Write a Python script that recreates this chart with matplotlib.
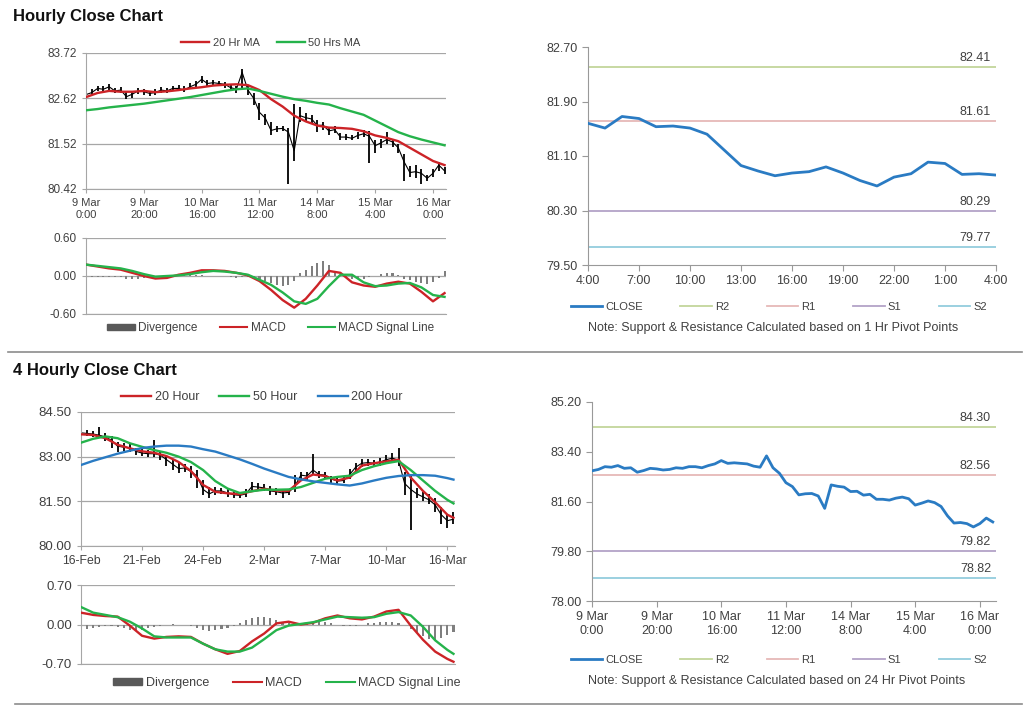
import matplotlib
matplotlib.use('Agg')
import matplotlib.pyplot as plt
from matplotlib.lines import Line2D
from matplotlib.patches import Patch

plt.rcParams['font.family'] = ['Liberation Sans', 'DejaVu Sans']

# ---------------- data ----------------
# hourly bars, sampled every 2 hours (index = hours since 9 Mar 0:00, weekend skipped)
hr_x = list(range(0, 125, 2))
hr_close = [82.71, 82.76, 82.86, 82.84, 82.90, 82.80, 82.82, 82.66, 82.72, 82.80,
            82.78, 82.74, 82.76, 82.82, 82.80, 82.86, 82.86, 82.82, 82.90, 82.96,
            83.08, 82.98, 83.00, 82.98, 82.96, 82.88, 82.84, 83.25, 82.82, 82.62,
            82.28, 82.14, 81.84, 81.88, 81.89, 81.80, 81.35, 82.20, 82.15, 82.12,
            81.96, 81.97, 81.83, 81.86, 81.68, 81.68, 81.65, 81.72, 81.76, 81.70,
            81.47, 81.54, 81.62, 81.56, 81.42, 81.08, 80.82, 80.84, 80.80, 80.68,
            80.80, 81.00, 80.86]
hr_high = [82.78, 82.84, 82.93, 82.92, 82.96, 82.88, 82.89, 82.78, 82.80, 82.86,
           82.84, 82.80, 82.84, 82.90, 82.88, 82.93, 82.94, 82.92, 82.98, 83.04,
           83.16, 83.06, 83.06, 83.04, 83.02, 82.96, 82.92, 83.32, 82.95, 82.75,
           82.50, 82.25, 82.05, 81.96, 81.95, 81.90, 82.48, 82.40, 82.26, 82.22,
           82.10, 82.05, 81.92, 81.94, 81.78, 81.75, 81.74, 81.80, 81.84, 81.82,
           81.60, 81.64, 81.80, 81.64, 81.52, 81.28, 80.98, 81.00, 80.90, 80.76,
           80.90, 81.08, 80.95]
hr_low = [82.62, 82.70, 82.80, 82.78, 82.83, 82.74, 82.76, 82.60, 82.64, 82.72,
          82.70, 82.68, 82.70, 82.76, 82.74, 82.80, 82.80, 82.78, 82.84, 82.90,
          83.00, 82.92, 82.94, 82.92, 82.88, 82.80, 82.76, 82.86, 82.70, 82.45,
          82.10, 81.98, 81.72, 81.80, 81.82, 80.55, 81.10, 82.05, 82.06, 82.02,
          81.80, 81.85, 81.74, 81.78, 81.62, 81.62, 81.60, 81.64, 81.68, 81.05,
          81.30, 81.42, 81.50, 81.44, 81.30, 80.62, 80.70, 80.68, 80.55, 80.62,
          80.70, 80.86, 80.78]

hr_ma_x = list(range(0, 125, 4))
hr_ma20 = [82.65, 82.75, 82.80, 82.78, 82.78, 82.80, 82.77, 82.79, 82.82, 82.86,
           82.89, 82.93, 82.95, 82.96, 82.94, 82.82, 82.60, 82.42, 82.20, 82.06,
           81.96, 81.91, 81.90, 81.88, 81.82, 81.72, 81.66, 81.58, 81.42, 81.26,
           81.10, 81.00]
hr_ma50 = [82.33, 82.36, 82.40, 82.43, 82.46, 82.49, 82.53, 82.57, 82.61, 82.65,
           82.70, 82.75, 82.80, 82.84, 82.86, 82.80, 82.73, 82.66, 82.60, 82.56,
           82.51, 82.47, 82.38, 82.30, 82.22, 82.08, 81.94, 81.80, 81.70, 81.62,
           81.55, 81.48]
hr_macd = [0.18, 0.15, 0.12, 0.10, 0.05, 0.00, -0.04, -0.03, 0.02, 0.05,
           0.09, 0.09, 0.08, 0.05, 0.01, -0.08, -0.22, -0.38, -0.50, -0.36,
           -0.15, 0.08, 0.05, -0.10, -0.15, -0.17, -0.12, -0.09, -0.12, -0.25,
           -0.40, -0.27]
hr_signal = [0.18, 0.16, 0.14, 0.12, 0.08, 0.03, -0.01, 0.00, 0.01, 0.03,
             0.06, 0.08, 0.07, 0.05, 0.02, -0.06, -0.14, -0.26, -0.40, -0.44,
             -0.36, -0.16, 0.02, 0.02, -0.10, -0.16, -0.15, -0.12, -0.11, -0.18,
             -0.30, -0.33]
hr_div = [0.00, -0.01, -0.02, -0.02, -0.01, -0.01, -0.02, -0.04, -0.05, -0.04,
          -0.03, -0.02, -0.01, 0.00, 0.01, 0.02, 0.02, 0.02, 0.01, 0.01,
          0.01, 0.00, 0.00, 0.00, 0.00, -0.01, -0.03, -0.02, -0.02, -0.03,
          -0.05, -0.08, -0.11, -0.14, -0.16, -0.14, -0.08, 0.04, 0.10, 0.16,
          0.20, 0.23, 0.18, 0.08, 0.02, -0.02, -0.04, -0.05, -0.04, -0.02,
          0.00, 0.03, 0.05, 0.04, 0.01, -0.04, -0.07, -0.09, -0.11, -0.12,
          -0.10, -0.03, 0.08]
hr_ticks = ['9 Mar\n0:00', '9 Mar\n20:00', '10 Mar\n16:00', '11 Mar\n12:00',
            '14 Mar\n8:00', '15 Mar\n4:00', '16 Mar\n0:00']

# last 24 hours, hourly close
day_labels = ['4:00', '7:00', '10:00', '13:00', '16:00', '19:00', '22:00', '1:00', '4:00']
day_close = [81.58, 81.51, 81.68, 81.65, 81.53, 81.54, 81.51, 81.42, 81.19, 80.96,
             80.88, 80.81, 80.85, 80.87, 80.94, 80.85, 80.74, 80.66, 80.79, 80.84,
             81.01, 80.99, 80.83, 80.84, 80.82]
pivot_1h = {'R2': 82.41, 'R1': 81.61, 'S1': 80.29, 'S2': 79.77}
pivot_24h = {'R2': 84.30, 'R1': 82.56, 'S1': 79.82, 'S2': 78.82}

# 4-hourly bars, sampled every 2 bars
h4_x = list(range(0, 123, 2))
h4_close = [83.80, 83.78, 83.76, 83.72, 83.66, 83.55, 83.35, 83.32, 83.30, 83.18,
            83.12, 83.10, 83.10, 83.05, 82.90, 82.75, 82.60, 82.62, 82.50, 82.35,
            81.90, 81.75, 81.85, 81.85, 81.78, 81.72, 81.70, 81.75, 82.00, 81.98,
            81.95, 81.85, 81.82, 81.78, 81.80, 82.00, 82.38, 82.35, 82.55, 82.40,
            82.38, 82.25, 82.18, 82.20, 82.40, 82.65, 82.78, 82.80, 82.78, 82.82,
            82.90, 82.95, 82.88, 82.10, 81.90, 81.75, 81.65, 81.55, 81.38, 81.05,
            80.85, 80.90]
h4_high = [83.92, 83.88, 83.86, 84.00, 83.78, 83.70, 83.50, 83.45, 83.42, 83.30,
           83.25, 83.22, 83.55, 83.20, 83.05, 82.90, 82.78, 82.76, 82.68, 82.55,
           82.20, 81.98, 81.98, 81.96, 81.90, 81.85, 81.82, 81.90, 82.15, 82.10,
           82.08, 82.00, 81.95, 81.92, 81.92, 82.40, 82.50, 82.48, 83.10, 82.52,
           82.50, 82.36, 82.30, 82.32, 82.58, 82.80, 82.92, 82.92, 82.90, 82.95,
           83.05, 83.12, 83.30, 82.50, 82.40, 81.95, 81.80, 81.75, 81.60, 81.30,
           81.05, 81.15]
h4_low = [83.70, 83.68, 83.66, 83.62, 83.52, 83.30, 83.15, 83.20, 83.15, 83.05,
          83.02, 83.00, 82.98, 82.88, 82.70, 82.55, 82.45, 82.48, 82.30, 81.95,
          81.70, 81.62, 81.72, 81.74, 81.66, 81.62, 81.60, 81.64, 81.88, 81.86,
          81.84, 81.72, 81.70, 81.60, 81.70, 81.80, 82.20, 82.22, 82.38, 82.28,
          82.26, 82.12, 82.08, 82.10, 82.25, 82.50, 82.66, 82.68, 82.66, 82.70,
          82.78, 82.82, 82.70, 81.70, 80.55, 81.60, 81.50, 81.40, 81.15, 80.75,
          80.60, 80.75]
h4_ma_x = list(range(0, 121, 4)) + [122]
h4_ma20 = [83.75, 83.73, 83.62, 83.40, 83.28, 83.18, 83.13, 83.02, 82.82, 82.52,
           82.05, 81.82, 81.77, 81.74, 81.84, 81.92, 81.86, 81.85, 82.20, 82.40,
           82.35, 82.20, 82.30, 82.70, 82.78, 82.84, 82.90, 82.30, 81.85, 81.47,
           81.05, 80.95]
h4_ma50 = [83.47, 83.60, 83.68, 83.62, 83.45, 83.33, 83.22, 83.13, 83.00, 82.82,
           82.55, 82.18, 81.93, 81.78, 81.84, 81.89, 81.89, 81.90, 81.98, 82.12,
           82.26, 82.32, 82.36, 82.55, 82.68, 82.78, 82.85, 82.55, 82.20, 81.85,
           81.55, 81.43]
h4_ma200 = [82.72, 82.86, 82.98, 83.10, 83.20, 83.29, 83.34, 83.37, 83.37, 83.34,
            83.25, 83.17, 83.04, 82.91, 82.76, 82.60, 82.46, 82.32, 82.24, 82.17,
            82.12, 82.07, 82.03, 82.10, 82.20, 82.29, 82.35, 82.38, 82.38, 82.36,
            82.28, 82.23]
h4_macd = [0.21, 0.17, 0.15, 0.14, -0.02, -0.20, -0.25, -0.22, -0.21, -0.22,
           -0.34, -0.44, -0.52, -0.47, -0.30, -0.16, 0.02, 0.05, 0.00, 0.03,
           0.11, 0.16, 0.11, 0.09, 0.14, 0.23, 0.26, -0.02, -0.27, -0.48,
           -0.61, -0.66]
h4_signal = [0.31, 0.21, 0.17, 0.13, 0.05, -0.07, -0.21, -0.23, -0.23, -0.23,
             -0.34, -0.44, -0.48, -0.48, -0.41, -0.26, -0.10, -0.02, 0.01, 0.04,
             0.09, 0.14, 0.13, 0.12, 0.13, 0.19, 0.22, 0.16, -0.04, -0.28,
             -0.45, -0.52]
h4_div = [-0.10, -0.08, -0.06, -0.04, -0.02, -0.02, -0.04, -0.07, -0.10, -0.12,
          -0.10, -0.07, -0.04, -0.02, 0.00, 0.01, 0.00, -0.01, -0.03, -0.06,
          -0.09, -0.11, -0.10, -0.08, -0.06, -0.03, 0.02, 0.08, 0.12, 0.14,
          0.14, 0.12, 0.08, 0.03, 0.02, 0.01, 0.02, 0.03, 0.04, 0.05,
          0.04, 0.03, 0.00, -0.02, -0.03, -0.02, 0.00, 0.02, 0.03, 0.04,
          0.05, 0.04, 0.03, 0.00, -0.08, -0.14, -0.20, -0.25, -0.28, -0.24,
          -0.18, -0.14]
h4_ticks = ['16-Feb', '21-Feb', '24-Feb', '2-Mar', '7-Mar', '10-Mar', '16-Mar']

RED = '#cc2327'
GREEN = '#25b34b'
BLUE = '#2a7bc3'
GRID = '#a6a6a6'
TXT = '#404040'
PIV_COL = {'R2': '#c3d69b', 'R1': '#e6b9b8', 'S1': '#b3a2c7', 'S2': '#93cddd'}

fig = plt.figure(figsize=(10.24, 7.06), dpi=100)


def px_axes(l, t, r, b):
    return fig.add_axes([l / 1024, 1 - b / 706, (r - l) / 1024, (b - t) / 706])


def style_left(ax, yticks, ysize=8.5, xsize=8):
    ax.set_ylim(yticks[0], yticks[-1])
    ax.set_yticks(yticks)
    ax.set_yticklabels(['{:.2f}'.format(v) for v in yticks])
    ax.grid(axis='y', color=GRID, lw=0.9)
    ax.set_axisbelow(True)
    for s in ['top', 'right']:
        ax.spines[s].set_visible(False)
    for s in ['left', 'bottom']:
        ax.spines[s].set_color(GRID)
    ax.tick_params(color=GRID, labelcolor=TXT, length=3)
    ax.tick_params(axis='y', labelsize=ysize)
    ax.tick_params(axis='x', labelsize=xsize)


def style_right(ax, yticks):
    ax.set_ylim(yticks[0], yticks[-1])
    ax.set_yticks(yticks)
    ax.set_yticklabels(['{:.2f}'.format(v) for v in yticks])
    for s in ['top', 'right']:
        ax.spines[s].set_visible(False)
    for s in ['left', 'bottom']:
        ax.spines[s].set_color('#999999')
    ax.tick_params(color='#999999', labelcolor=TXT, labelsize=9, length=4)


def pivots(ax, piv, xmax):
    for k in ['R2', 'R1', 'S1', 'S2']:
        ax.axhline(piv[k], color=PIV_COL[k], lw=1.3)
        ax.annotate('{:.2f}'.format(piv[k]), xy=(xmax, piv[k]), xytext=(-5, 3),
                    textcoords='offset pixels', ha='right', va='bottom',
                    fontsize=9, color=TXT)


def pivot_legend(y):
    h = [Line2D([], [], color=BLUE, lw=2)] + \
        [Line2D([], [], color=PIV_COL[k], lw=1.3) for k in ['R2', 'R1', 'S1', 'S2']]
    fig.legend(h, ['CLOSE', 'R2', 'R1', 'S1', 'S2'], loc='center',
               bbox_to_anchor=(779 / 1024, 1 - y / 706), ncol=5, frameon=False,
               fontsize=8, handlelength=2.8, columnspacing=3.4, handletextpad=0.3,
               labelcolor=TXT)


def macd_legend(x, y, size):
    h = [Patch(color='#595959'), Line2D([], [], color=RED, lw=1.5),
         Line2D([], [], color=GREEN, lw=1.5)]
    fig.legend(h, ['Divergence', 'MACD', 'MACD Signal Line'], loc='center',
               bbox_to_anchor=(x / 1024, 1 - y / 706), ncol=3, frameon=False,
               fontsize=size, handlelength=2.3, handleheight=0.45, columnspacing=1.9,
               handletextpad=0.3, labelcolor=TXT)


# ---------- hourly close chart ----------
ax = px_axes(86, 53, 446, 189)
ax.vlines(hr_x, hr_low, hr_high, color='black', lw=1.3, zorder=2)
ax.plot(hr_x, hr_close, color='black', lw=0.8, zorder=2)
ax.plot(hr_ma_x, hr_ma20, color=RED, lw=1.7, zorder=3, label='20 Hr MA')
ax.plot(hr_ma_x, hr_ma50, color=GREEN, lw=1.7, zorder=3, label='50 Hrs MA')
style_left(ax, [80.42, 81.52, 82.62, 83.72])
ax.set_xlim(0, 124.5)
ax.set_xticks(range(0, 121, 20))
ax.set_xticklabels(hr_ticks)
fig.legend(*ax.get_legend_handles_labels(), loc='center',
           bbox_to_anchor=(271 / 1024, 1 - 43 / 706), ncol=2, frameon=False,
           fontsize=8, handlelength=2.5, columnspacing=1.6, handletextpad=0.3,
           labelcolor=TXT)

ax = px_axes(86, 238, 446, 314)
ax.bar(hr_x, hr_div, width=0.7, color='#7f7f7f', zorder=2)
ax.plot(hr_ma_x, hr_macd, color=RED, lw=1.7, zorder=3)
ax.plot(hr_ma_x, hr_signal, color=GREEN, lw=1.7, zorder=3)
style_left(ax, [-0.6, 0.0, 0.6])
ax.set_xlim(0, 124.5)
ax.tick_params(axis='x', length=0, labelbottom=False)
macd_legend(271, 328, 8.5)

# ---------- last 24 hours with 1 hr pivots ----------
ax = px_axes(588, 47, 996, 265)
pivots(ax, pivot_1h, 24)
ax.plot(range(len(day_close)), day_close, color=BLUE, lw=2, zorder=3)
style_right(ax, [79.50, 80.30, 81.10, 81.90, 82.70])
ax.set_xlim(0, 24)
ax.set_xticks(range(0, 25, 3))
ax.set_xticklabels(day_labels)
pivot_legend(307)
fig.text(773 / 1024, 1 - 328 / 706,
         'Note: Support & Resistance Calculated based on 1 Hr Pivot Points',
         ha='center', va='center', fontsize=9, color=TXT)

# ---------- 4 hourly close chart ----------
ax = px_axes(81, 412, 455, 546)
ax.vlines(h4_x, h4_low, h4_high, color='black', lw=1.3, zorder=2)
ax.plot(h4_x, h4_close, color='black', lw=0.8, zorder=2)
ax.plot(h4_ma_x, h4_ma20, color=RED, lw=1.7, zorder=3, label='20 Hour')
ax.plot(h4_ma_x, h4_ma50, color=GREEN, lw=1.7, zorder=3, label='50 Hour')
ax.plot(h4_ma_x, h4_ma200, color=BLUE, lw=1.7, zorder=3, label='200 Hour')
style_left(ax, [80.00, 81.50, 83.00, 84.50], ysize=9.5, xsize=8.8)
ax.set_xlim(0, 122.5)
ax.set_xticks(range(0, 121, 20))
ax.set_xticklabels(h4_ticks)
fig.legend(*ax.get_legend_handles_labels(), loc='center',
           bbox_to_anchor=(262 / 1024, 1 - 397 / 706), ncol=3, frameon=False,
           fontsize=9, handlelength=2.4, columnspacing=1.6, handletextpad=0.3,
           labelcolor=TXT)

ax = px_axes(81, 585, 455, 664)
ax.bar(h4_x, h4_div, width=0.7, color='#7f7f7f', zorder=2)
ax.plot(h4_ma_x, h4_macd, color=RED, lw=1.7, zorder=3)
ax.plot(h4_ma_x, h4_signal, color=GREEN, lw=1.7, zorder=3)
style_left(ax, [-0.7, 0.0, 0.7], ysize=9.5)
ax.set_xlim(0, 122.5)
ax.tick_params(axis='x', length=0, labelbottom=False)
macd_legend(287, 683, 9)

# ---------- hourly close with 24 hr pivots ----------
ax = px_axes(592, 402, 996, 601)
pivots(ax, pivot_24h, 125)
ax.plot(hr_x, hr_close, color=BLUE, lw=2, zorder=3)
style_right(ax, [78.00, 79.80, 81.60, 83.40, 85.20])
ax.set_xlim(0, 125)
ax.set_xticks(range(0, 121, 20))
ax.set_xticklabels(hr_ticks)
pivot_legend(660)
fig.text(777 / 1024, 1 - 681 / 706,
         'Note: Support & Resistance Calculated based on 24 Hr Pivot Points',
         ha='center', va='center', fontsize=9, color=TXT)

# titles and separators
fig.text(13 / 1024, 1 - 16 / 706, 'Hourly Close Chart', fontsize=12,
         fontweight='bold', va='center', color='#111111')
fig.text(13 / 1024, 1 - 370 / 706, '4 Hourly Close Chart', fontsize=12,
         fontweight='bold', va='center', color='#111111')
fig.add_artist(Line2D([0.008, 0.998], [1 - 352 / 706] * 2, color='#8c8c8c', lw=1.2))
fig.add_artist(Line2D([0.015, 0.998], [1 - 704 / 706] * 2, color='#8c8c8c', lw=1.2))

fig.savefig('out.png', dpi=100, facecolor='white')
